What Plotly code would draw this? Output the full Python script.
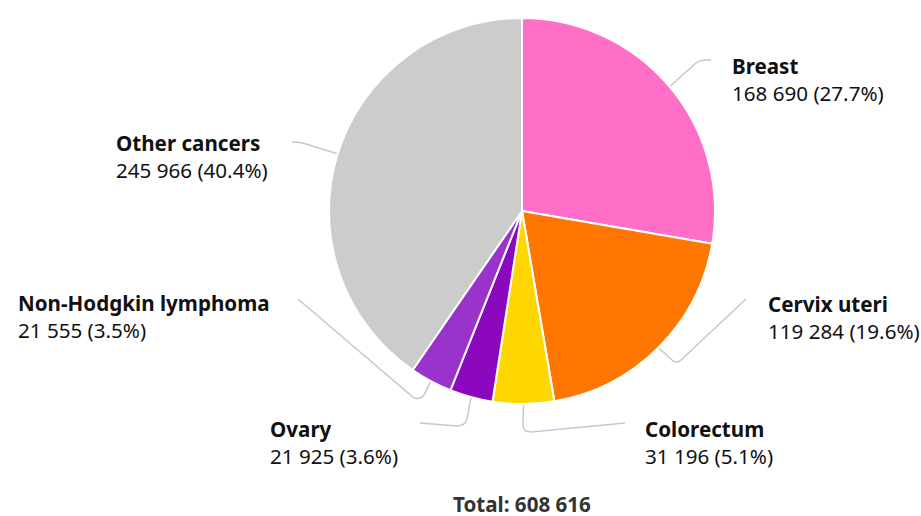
import math
import plotly.graph_objects as go

# ---- data ----
categories = ["Breast", "Cervix uteri", "Colorectum", "Ovary", "Non-Hodgkin lymphoma", "Other cancers"]
values = [168690, 119284, 31196, 21925, 21555, 245966]
colors = ["#ff6ec7", "#ff7700", "#ffd700", "#8b08bf", "#9933cc", "#cccccc"]
total_label = "Total: 608 616"

W, H = 921, 516
CX, CY, R = 522, 211, 193
ML, MR, MT, MB = 0, 0, CY - R, H - (CY + R)
FS = 20.6


def X(px):
    return px / W


def Y(py):
    return (CY + R - py) / (2 * R)


def fmt(v):
    return f"{v:,}".replace(",", " ")


total = sum(values)

fig = go.Figure(go.Pie(
    labels=categories, values=values, sort=False, direction="clockwise", rotation=0,
    marker=dict(colors=colors, line=dict(color="white", width=2)),
    textinfo="none", hoverinfo="label+value+percent", showlegend=False,
    domain=dict(x=[X(CX - R), X(CX + R)], y=[0, 1]),
))

# label layout (left x of text, cap-middle y of first line) and connector elbows
label_pos = {
    "Breast": (730, 66),
    "Cervix uteri": (766, 304),
    "Colorectum": (643, 429),
    "Ovary": (268, 429),
    "Non-Hodgkin lymphoma": (16, 303),
    "Other cancers": (114, 143),
}
elbows = {
    "Breast": "L 696,63 Q 700,60 705,60 L 711,60",
    "Cervix uteri": "L 672,360 Q 676,364 681,360 L 746,299",
    "Colorectum": "L 523,425 Q 523,432 531,432 L 625,423",
    "Ovary": "L 467,419 Q 465,426 457,426 L 420,423",
    "Non-Hodgkin lymphoma": "L 424,395 Q 420,400 414,398 L 298,299",
    "Other cancers": "L 312,146 Q 302,142 292,142",
}


def conv_path(s):
    out = []
    for t in s.split():
        if "," in t:
            a, b = t.split(",")
            out.append(f"{X(float(a)):.5f},{Y(float(b)):.5f}")
        else:
            out.append(t)
    return " ".join(out)


shapes = []
annotations = []
cum = 0
for name, v in zip(categories, values):
    mid = (cum + v / 2) / total * 2 * math.pi
    cum += v
    sx = CX + (R + 1) * math.sin(mid)
    sy = CY - (R + 1) * math.cos(mid)
    path = f"M {X(sx):.5f},{Y(sy):.5f} " + conv_path(elbows[name])
    shapes.append(dict(type="path", xref="paper", yref="paper", path=path,
                       line=dict(color="#c8c8c8", width=1.5)))
    lx, ly = label_pos[name]
    pct = v / total * 100
    annotations.append(dict(
        xref="paper", yref="paper", x=X(lx), y=Y(ly + 13.5),
        xanchor="left", yanchor="middle", align="left", showarrow=False,
        text=f"<b>{name}</b><br>{fmt(v)} ({pct:.1f}%)",
        font=dict(family="Noto Sans", size=FS, color="#111111"),
    ))

annotations.append(dict(
    xref="paper", yref="paper", x=X(CX), y=Y(504), xanchor="center", yanchor="middle",
    showarrow=False, text=f"<b>{total_label}</b>", borderpad=0,
    font=dict(family="Noto Sans", size=FS, color="#333333"),
))

fig.update_layout(
    width=W, height=H, margin=dict(l=ML, r=MR, t=MT, b=MB, pad=0),
    paper_bgcolor="white", plot_bgcolor="white",
    shapes=shapes, annotations=annotations,
    font=dict(family="Noto Sans"),
)

fig.write_html("out.html", config={"displayModeBar": False},
               post_script="document.body.style.margin='0';document.body.style.overflow='hidden';")
